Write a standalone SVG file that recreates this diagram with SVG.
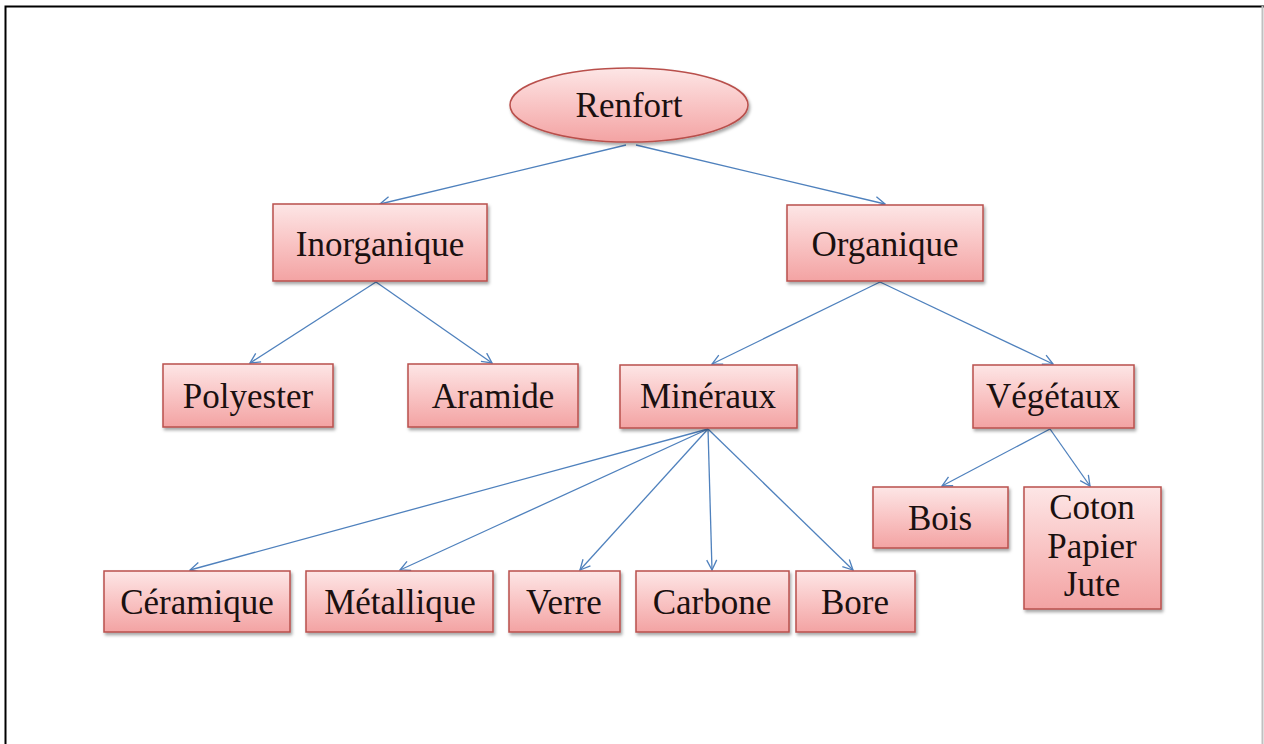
<svg xmlns="http://www.w3.org/2000/svg" width="1264" height="744" viewBox="0 0 1264 744">
  <defs>
    <linearGradient id="pink" x1="0" y1="0" x2="0" y2="1">
      <stop offset="0" stop-color="#fde6e6"/>
      <stop offset="0.5" stop-color="#f9c4c4"/>
      <stop offset="1" stop-color="#f3a3a3"/>
    </linearGradient>
    <filter id="shadow" x="-10%" y="-10%" width="130%" height="140%">
      <feDropShadow dx="1.5" dy="2.5" stdDeviation="1.8" flood-color="#000" flood-opacity="0.35"/>
    </filter>
    <marker id="arrow" viewBox="0 0 12 12" refX="11" refY="6" markerWidth="12" markerHeight="12" markerUnits="userSpaceOnUse" orient="auto">
      <path d="M1,1 L11,6 L1,11" fill="none" stroke="#4f81bd" stroke-width="1.3"/>
    </marker>
    <style>
      .box { fill: url(#pink); stroke: #b9504c; stroke-width: 1.5; filter: url(#shadow); }
      .label { font-family: "Liberation Serif", "Times New Roman", serif; font-size: 35px; fill: #1a1010; text-anchor: middle; }
      .link { stroke: #4f81bd; stroke-width: 1.3; fill: none; marker-end: url(#arrow); }
    </style>
  </defs>

  <rect width="1264" height="744" fill="#ffffff"/>
  <!-- page frame -->
  <path d="M5.5,744 V6.5 H1264" fill="none" stroke="#000" stroke-width="2"/>
  <line x1="1262.5" y1="6" x2="1262.5" y2="744" stroke="#c0c0c0" stroke-width="2"/>

  <g id="connectors">
    <line class="link" x1="626" y1="145" x2="380" y2="204"/>
    <line class="link" x1="636" y1="145" x2="885" y2="204"/>
    <line class="link" x1="376" y1="282" x2="250" y2="363"/>
    <line class="link" x1="376" y1="282" x2="492" y2="363"/>
    <line class="link" x1="880" y1="282" x2="712" y2="364"/>
    <line class="link" x1="880" y1="282" x2="1053" y2="364"/>
    <line class="link" x1="708" y1="429" x2="190" y2="570"/>
    <line class="link" x1="708" y1="429" x2="400" y2="570"/>
    <line class="link" x1="708" y1="429" x2="580" y2="570"/>
    <line class="link" x1="708" y1="429" x2="712" y2="570"/>
    <line class="link" x1="708" y1="429" x2="853" y2="570"/>
    <line class="link" x1="1050" y1="429" x2="942" y2="486"/>
    <line class="link" x1="1050" y1="429" x2="1090" y2="486"/>
  </g>

  <g id="renfort">
    <ellipse class="box" cx="629" cy="105" rx="119" ry="37"/>
    <text class="label" x="629" y="117">Renfort</text>
  </g>
  <g id="inorganique">
    <rect class="box" x="273" y="204" width="214" height="77"/>
    <text class="label" x="380" y="256">Inorganique</text>
  </g>
  <g id="organique">
    <rect class="box" x="787" y="205" width="196" height="76"/>
    <text class="label" x="885" y="256">Organique</text>
  </g>
  <g id="polyester">
    <rect class="box" x="163" y="364" width="170" height="63"/>
    <text class="label" x="248" y="408">Polyester</text>
  </g>
  <g id="aramide">
    <rect class="box" x="408" y="364" width="170" height="63"/>
    <text class="label" x="493" y="408">Aramide</text>
  </g>
  <g id="mineraux">
    <rect class="box" x="620" y="365" width="177" height="63"/>
    <text class="label" x="708" y="408">Minéraux</text>
  </g>
  <g id="vegetaux">
    <rect class="box" x="973" y="365" width="161" height="63"/>
    <text class="label" x="1053" y="408">Végétaux</text>
  </g>
  <g id="ceramique">
    <rect class="box" x="104" y="571" width="186" height="61"/>
    <text class="label" x="197" y="614">Céramique</text>
  </g>
  <g id="metallique">
    <rect class="box" x="306" y="571" width="187" height="61"/>
    <text class="label" x="400" y="614">Métallique</text>
  </g>
  <g id="verre">
    <rect class="box" x="509" y="571" width="111" height="61"/>
    <text class="label" x="564" y="614">Verre</text>
  </g>
  <g id="carbone">
    <rect class="box" x="636" y="571" width="153" height="61"/>
    <text class="label" x="712" y="614">Carbone</text>
  </g>
  <g id="bore">
    <rect class="box" x="796" y="571" width="119" height="61"/>
    <text class="label" x="855" y="614">Bore</text>
  </g>
  <g id="bois">
    <rect class="box" x="873" y="487" width="135" height="61"/>
    <text class="label" x="940" y="530">Bois</text>
  </g>
  <g id="coton-papier-jute">
    <rect class="box" x="1024" y="487" width="137" height="122"/>
    <text class="label" x="1092" y="519">Coton</text>
    <text class="label" x="1092" y="558">Papier</text>
    <text class="label" x="1092" y="596">Jute</text>
  </g>
</svg>
